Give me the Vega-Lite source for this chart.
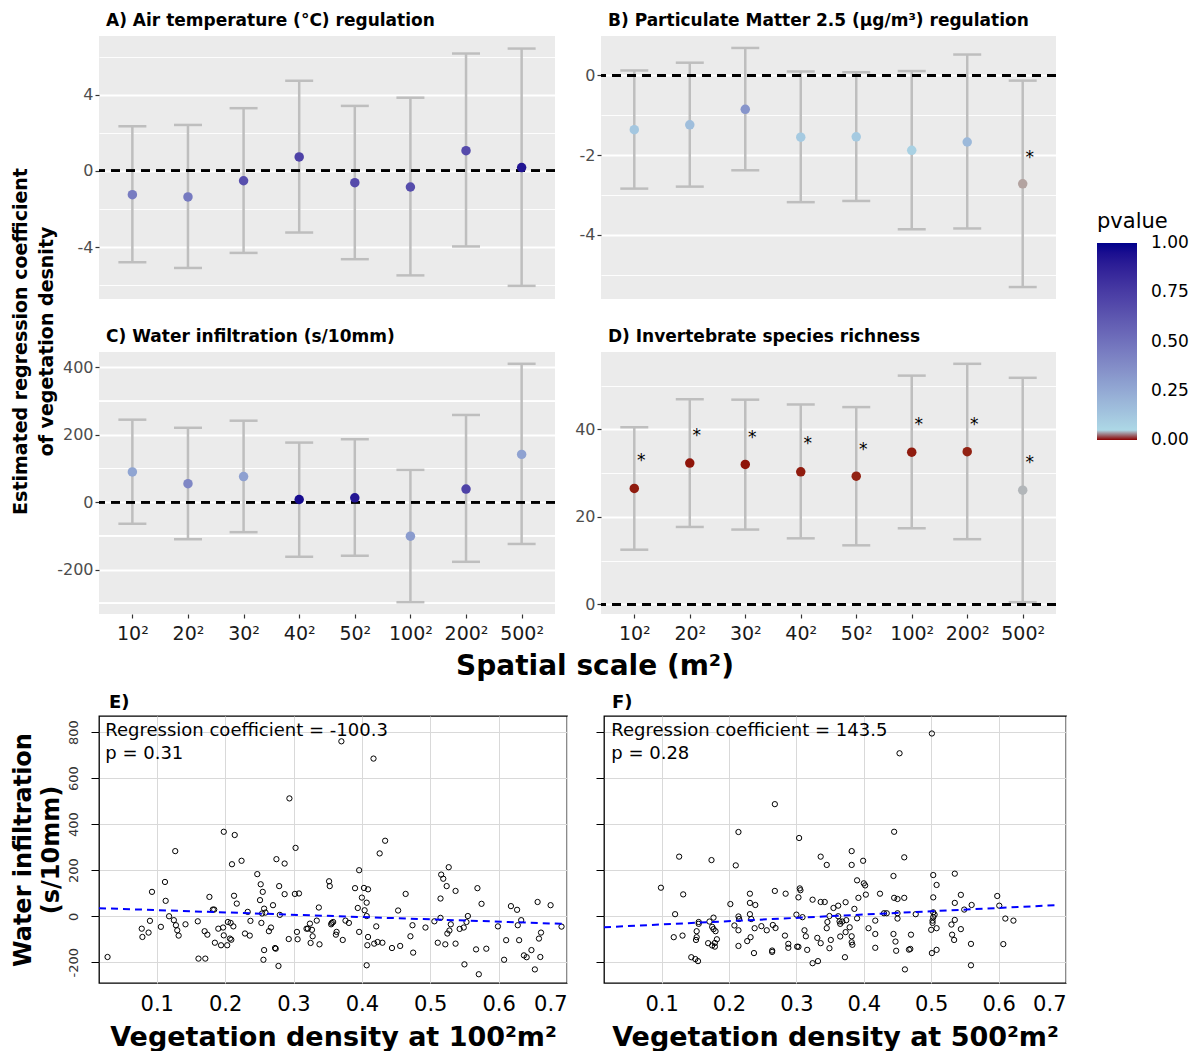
{
"$schema": "https://vega.github.io/schema/vega-lite/v6.json",
"background": "white",
"padding": {"left": 10, "top": 12, "right": 4, "bottom": 0},
"config": {
  "font": "DejaVu Sans",
  "view": {"fill": "#EBEBEB", "stroke": null},
  "axis": {"labelFont": "DejaVu Sans", "titleFont": "DejaVu Sans"},
  "title": {"font": "DejaVu Sans", "color": "black"}
},
"datasets": {
  "coef": [
    {"panel":"A","scale":"10²","est":-1.25,"lo":-4.80,"hi":2.34,"p":0.45},
    {"panel":"A","scale":"20²","est":-1.37,"lo":-5.10,"hi":2.41,"p":0.46},
    {"panel":"A","scale":"30²","est":-0.52,"lo":-4.31,"hi":3.29,"p":0.66},
    {"panel":"A","scale":"40²","est":0.73,"lo":-3.24,"hi":4.73,"p":0.72},
    {"panel":"A","scale":"50²","est":-0.62,"lo":-4.64,"hi":3.41,"p":0.68},
    {"panel":"A","scale":"100²","est":-0.85,"lo":-5.49,"hi":3.84,"p":0.67},
    {"panel":"A","scale":"200²","est":1.06,"lo":-3.97,"hi":6.16,"p":0.68},
    {"panel":"A","scale":"500²","est":0.17,"lo":-6.04,"hi":6.42,"p":0.93},
    {"panel":"B","scale":"10²","est":-1.36,"lo":-2.84,"hi":0.125,"p":0.12},
    {"panel":"B","scale":"20²","est":-1.24,"lo":-2.79,"hi":0.32,"p":0.16},
    {"panel":"B","scale":"30²","est":-0.85,"lo":-2.38,"hi":0.69,"p":0.34},
    {"panel":"B","scale":"40²","est":-1.55,"lo":-3.18,"hi":0.10,"p":0.11},
    {"panel":"B","scale":"50²","est":-1.54,"lo":-3.15,"hi":0.08,"p":0.11},
    {"panel":"B","scale":"100²","est":-1.88,"lo":-3.86,"hi":0.11,"p":0.08},
    {"panel":"B","scale":"200²","est":-1.67,"lo":-3.84,"hi":0.525,"p":0.18},
    {"panel":"B","scale":"500²","est":-2.72,"lo":-5.31,"hi":-0.13,"p":0.036,"star":-1.97},
    {"panel":"C","scale":"10²","est":90,"lo":-64,"hi":245,"p":0.27},
    {"panel":"C","scale":"20²","est":55,"lo":-110,"hi":221,"p":0.40},
    {"panel":"C","scale":"30²","est":76,"lo":-89,"hi":242,"p":0.29},
    {"panel":"C","scale":"40²","est":8,"lo":-162,"hi":177,"p":0.96},
    {"panel":"C","scale":"50²","est":13,"lo":-159,"hi":187,"p":0.92},
    {"panel":"C","scale":"100²","est":-101,"lo":-297,"hi":96,"p":0.31},
    {"panel":"C","scale":"200²","est":39,"lo":-177,"hi":259,"p":0.72},
    {"panel":"C","scale":"500²","est":142,"lo":-124,"hi":411,"p":0.28},
    {"panel":"D","scale":"10²","est":26.5,"lo":12.5,"hi":40.5,"p":0.003,"star":33.6},
    {"panel":"D","scale":"20²","est":32.3,"lo":17.7,"hi":46.9,"p":0.002,"star":39.4},
    {"panel":"D","scale":"30²","est":32.0,"lo":17.1,"hi":46.8,"p":0.002,"star":39.0},
    {"panel":"D","scale":"40²","est":30.3,"lo":15.1,"hi":45.7,"p":0.003,"star":37.5},
    {"panel":"D","scale":"50²","est":29.3,"lo":13.5,"hi":45.1,"p":0.004,"star":36.3},
    {"panel":"D","scale":"100²","est":34.8,"lo":17.4,"hi":52.3,"p":0.003,"star":41.9},
    {"panel":"D","scale":"200²","est":34.9,"lo":14.9,"hi":55.0,"p":0.004,"star":42.0},
    {"panel":"D","scale":"500²","est":26.1,"lo":0.5,"hi":51.8,"p":0.041,"star":33.2}
  ],
  "e": [
    {"x":0.028,"y":-177},{"x":0.078,"y":-54},{"x":0.079,"y":-90},{"x":0.088,"y":-71},{"x":0.090,"y":-20},{"x":0.093,"y":106},{"x":0.106,"y":-46},{"x":0.112,"y":149},{"x":0.113,"y":67},{"x":0.118,"y":0},{"x":0.125,"y":-17},{"x":0.127,"y":283},{"x":0.128,"y":-39},{"x":0.130,"y":-61},{"x":0.132,"y":-84},{"x":0.142,"y":-35},{"x":0.160,"y":-22},{"x":0.161,"y":-184},{"x":0.170,"y":-65},{"x":0.171,"y":-184},{"x":0.174,"y":-80},{"x":0.177,"y":84},{"x":0.182,"y":29},{"x":0.184,"y":29},{"x":0.185,"y":-115},{"x":0.190,"y":-54},{"x":0.194,"y":-126},{"x":0.197,"y":-49},{"x":0.198,"y":367},{"x":0.198,"y":-83},{"x":0.203,"y":-126},{"x":0.204,"y":-25},{"x":0.207,"y":-97},{"x":0.208,"y":-29},{"x":0.209,"y":-102},{"x":0.210,"y":226},{"x":0.212,"y":-44},{"x":0.213,"y":89},{"x":0.214,"y":353},{"x":0.217,"y":55},{"x":0.224,"y":241},{"x":0.229,"y":-75},{"x":0.233,"y":19},{"x":0.236,"y":-84},{"x":0.237,"y":-20},{"x":0.247,"y":183},{"x":0.251,"y":70},{"x":0.252,"y":139},{"x":0.253,"y":-29},{"x":0.254,"y":12},{"x":0.255,"y":106},{"x":0.256,"y":-189},{"x":0.257,"y":-147},{"x":0.257,"y":33},{"x":0.259,"y":16},{"x":0.264,"y":-65},{"x":0.267,"y":-49},{"x":0.270,"y":48},{"x":0.273,"y":-138},{"x":0.274,"y":-141},{"x":0.275,"y":248},{"x":0.278,"y":-216},{"x":0.279,"y":131},{"x":0.280,"y":6},{"x":0.287,"y":96},{"x":0.287,"y":229},{"x":0.293,"y":-99},{"x":0.294,"y":512},{"x":0.302,"y":97},{"x":0.303,"y":297},{"x":0.305,"y":-68},{"x":0.306,"y":-100},{"x":0.308,"y":99},{"x":0.319,"y":-54},{"x":0.321,"y":-54},{"x":0.324,"y":-32},{"x":0.325,"y":-116},{"x":0.327,"y":-59},{"x":0.328,"y":-87},{"x":0.334,"y":-19},{"x":0.337,"y":38},{"x":0.338,"y":-122},{"x":0.352,"y":152},{"x":0.353,"y":131},{"x":0.355,"y":-35},{"x":0.356,"y":-29},{"x":0.358,"y":-25},{"x":0.362,"y":-80},{"x":0.363,"y":-68},{"x":0.370,"y":760},{"x":0.372,"y":-103},{"x":0.376,"y":-19},{"x":0.381,"y":-29},{"x":0.390,"y":122},{"x":0.394,"y":36},{"x":0.396,"y":-68},{"x":0.396,"y":200},{"x":0.400,"y":81},{"x":0.403,"y":123},{"x":0.404,"y":26},{"x":0.407,"y":59},{"x":0.407,"y":-213},{"x":0.407,"y":1},{"x":0.408,"y":-126},{"x":0.409,"y":117},{"x":0.409,"y":-90},{"x":0.417,"y":685},{"x":0.418,"y":-119},{"x":0.421,"y":-44},{"x":0.423,"y":-112},{"x":0.426,"y":273},{"x":0.430,"y":-115},{"x":0.434,"y":328},{"x":0.444,"y":-138},{"x":0.453,"y":25},{"x":0.456,"y":-129},{"x":0.464,"y":97},{"x":0.471,"y":-87},{"x":0.474,"y":-39},{"x":0.475,"y":-158},{"x":0.493,"y":-49},{"x":0.506,"y":-22},{"x":0.511,"y":-115},{"x":0.515,"y":77},{"x":0.515,"y":-7},{"x":0.516,"y":181},{"x":0.519,"y":163},{"x":0.522,"y":-122},{"x":0.524,"y":131},{"x":0.525,"y":-75},{"x":0.527,"y":213},{"x":0.528,"y":-62},{"x":0.530,"y":-35},{"x":0.537,"y":110},{"x":0.537,"y":-119},{"x":0.543,"y":-55},{"x":0.549,"y":-49},{"x":0.550,"y":-209},{"x":0.553,"y":-25},{"x":0.555,"y":1},{"x":0.567,"y":-144},{"x":0.569,"y":122},{"x":0.571,"y":-252},{"x":0.575,"y":54},{"x":0.582,"y":-141},{"x":0.599,"y":-44},{"x":0.608,"y":-189},{"x":0.611,"y":-104},{"x":0.618,"y":44},{"x":0.627,"y":28},{"x":0.628,"y":-39},{"x":0.630,"y":-104},{"x":0.633,"y":-17},{"x":0.637,"y":-170},{"x":0.641,"y":-178},{"x":0.648,"y":-147},{"x":0.653,"y":-231},{"x":0.657,"y":62},{"x":0.659,"y":-97},{"x":0.661,"y":-177},{"x":0.662,"y":-71},{"x":0.676,"y":48},{"x":0.692,"y":-45}
  ],
  "f": [
    {"x":0.501,"y":794},{"x":0.453,"y":708},{"x":0.268,"y":487},{"x":0.445,"y":367},{"x":0.214,"y":366},{"x":0.304,"y":340},{"x":0.126,"y":259},{"x":0.174,"y":244},{"x":0.210,"y":221},{"x":0.336,"y":259},{"x":0.345,"y":223},{"x":0.382,"y":283},{"x":0.382,"y":223},{"x":0.399,"y":241},{"x":0.460,"y":256},{"x":0.444,"y":175},{"x":0.503,"y":179},{"x":0.535,"y":185},{"x":0.508,"y":136},{"x":0.390,"y":156},{"x":0.400,"y":143},{"x":0.402,"y":134},{"x":0.099,"y":124},{"x":0.305,"y":121},{"x":0.306,"y":113},{"x":0.268,"y":110},{"x":0.284,"y":98},{"x":0.231,"y":98},{"x":0.132,"y":95},{"x":0.424,"y":98},{"x":0.403,"y":94},{"x":0.303,"y":82},{"x":0.503,"y":82},{"x":0.544,"y":93},{"x":0.598,"y":88},{"x":0.324,"y":72},{"x":0.336,"y":62},{"x":0.342,"y":62},{"x":0.392,"y":80},{"x":0.373,"y":61},{"x":0.362,"y":46},{"x":0.355,"y":36},{"x":0.386,"y":32},{"x":0.445,"y":80},{"x":0.450,"y":75},{"x":0.460,"y":80},{"x":0.535,"y":58},{"x":0.560,"y":49},{"x":0.549,"y":29},{"x":0.601,"y":46},{"x":0.202,"y":53},{"x":0.231,"y":58},{"x":0.239,"y":49},{"x":0.120,"y":9},{"x":0.231,"y":9},{"x":0.300,"y":7},{"x":0.309,"y":-4},{"x":0.349,"y":1},{"x":0.362,"y":0},{"x":0.430,"y":13},{"x":0.434,"y":13},{"x":0.450,"y":13},{"x":0.477,"y":9},{"x":0.503,"y":17},{"x":0.505,"y":7},{"x":0.450,"y":-10},{"x":0.503,"y":-4},{"x":0.214,"y":-1},{"x":0.215,"y":-12},{"x":0.233,"y":-12},{"x":0.177,"y":-6},{"x":0.171,"y":-23},{"x":0.155,"y":-25},{"x":0.155,"y":-33},{"x":0.346,"y":-25},{"x":0.364,"y":-22},{"x":0.368,"y":-23},{"x":0.374,"y":-17},{"x":0.390,"y":-9},{"x":0.417,"y":-19},{"x":0.502,"y":-19},{"x":0.502,"y":-29},{"x":0.610,"y":-10},{"x":0.622,"y":-19},{"x":0.535,"y":-16},{"x":0.530,"y":-36},{"x":0.208,"y":-40},{"x":0.175,"y":-46},{"x":0.177,"y":-56},{"x":0.214,"y":-61},{"x":0.238,"y":-52},{"x":0.248,"y":-43},{"x":0.256,"y":-61},{"x":0.269,"y":-51},{"x":0.312,"y":-61},{"x":0.265,"y":-38},{"x":0.345,"y":-52},{"x":0.365,"y":-33},{"x":0.379,"y":-48},{"x":0.373,"y":-69},{"x":0.407,"y":-52},{"x":0.500,"y":-59},{"x":0.508,"y":-52},{"x":0.544,"y":-56},{"x":0.152,"y":-65},{"x":0.131,"y":-84},{"x":0.118,"y":-91},{"x":0.152,"y":-91},{"x":0.151,"y":-103},{"x":0.180,"y":-65},{"x":0.182,"y":-100},{"x":0.179,"y":-116},{"x":0.169,"y":-117},{"x":0.175,"y":-127},{"x":0.179,"y":-132},{"x":0.214,"y":-129},{"x":0.227,"y":-108},{"x":0.232,"y":-91},{"x":0.237,"y":-160},{"x":0.264,"y":-149},{"x":0.264,"y":-155},{"x":0.283,"y":-84},{"x":0.288,"y":-120},{"x":0.288,"y":-137},{"x":0.301,"y":-132},{"x":0.303,"y":-133},{"x":0.314,"y":-87},{"x":0.316,"y":-146},{"x":0.331,"y":-94},{"x":0.336,"y":-117},{"x":0.349,"y":-139},{"x":0.351,"y":-103},{"x":0.365,"y":-88},{"x":0.372,"y":-178},{"x":0.382,"y":-87},{"x":0.382,"y":-113},{"x":0.383,"y":-124},{"x":0.417,"y":-77},{"x":0.417,"y":-137},{"x":0.444,"y":-77},{"x":0.447,"y":-110},{"x":0.448,"y":-150},{"x":0.467,"y":-145},{"x":0.470,"y":-80},{"x":0.469,"y":-142},{"x":0.461,"y":-231},{"x":0.501,"y":-160},{"x":0.508,"y":-146},{"x":0.531,"y":-80},{"x":0.534,"y":-103},{"x":0.559,"y":-120},{"x":0.559,"y":-213},{"x":0.607,"y":-121},{"x":0.144,"y":-178},{"x":0.150,"y":-186},{"x":0.154,"y":-195},{"x":0.324,"y":-204},{"x":0.332,"y":-195}
  ],
  "eline": [{"x":0.0155,"y":35.1},{"x":0.695,"y":-33}],
  "fline": [{"x":0.0145,"y":-47.9},{"x":0.69,"y":49}],
  "eanno": [{"x":0.0247,"y":804,"label":"Regression coefficient = -100.3"},{"x":0.0247,"y":707,"label":"p = 0.31"}],
  "fanno": [{"x":0.0253,"y":804,"label":"Regression coefficient = 143.5"},{"x":0.0253,"y":707,"label":"p = 0.28"}]
},
"spacing": 12,
"vconcat": [
  {
    "title": {"text": "Spatial scale (m²)", "orient": "bottom", "anchor": "middle", "fontSize": 28, "fontWeight": "bold", "offset": 10, "dx": 61},
    "spacing": 18,
    "hconcat": [
      {
        "bounds": "flush",
        "spacing": 53,
        "vconcat": [
          {
            "width": 456, "height": 263,
            "data": {"name": "coef"},
            "transform": [{"filter": "datum.panel === 'A'"}],
            "title": {"text": "A) Air temperature (°C) regulation", "anchor": "start", "frame": "group", "fontSize": 17, "fontWeight": "bold", "offset": 6, "dx": 7},
            "layer": [
              {"mark": {"type": "rule", "color": "#BEBEBE", "strokeWidth": 2.5},
               "encoding": {
                 "x": {"field": "scale", "type": "ordinal", "scale": {"type": "point", "domain": ["10²","20²","30²","40²","50²","100²","200²","500²"], "padding": 0.6}, "axis": {"title": null, "labels": false, "ticks": false, "domain": false, "gridColor": "#FFFFFF", "gridWidth": 1.8}},
                 "y": {"field": "lo", "type": "quantitative", "scale": {"domain": [-6.73, 7.08], "nice": false, "zero": false},
                       "axis": {"title": ["Estimated regression coefficient", "of vegetation desnity"], "titleFontSize": 19, "titleFontWeight": "bold", "titleColor": "black", "titleLineHeight": 26, "titleX": -69, "titleY": 305, "titleAngle": 270, "titleAlign": "center", "titleBaseline": "bottom",
                                "values": [-6,-4,-2,0,2,4,6], "labelExpr": "datum.value % 4 === 0 ? '' + datum.value : ''", "domain": false, "gridColor": "#FFFFFF", "gridWidth": {"condition": {"test": "datum.value % 4 === 0", "value": 1.8}, "value": 0.9}, "tickOpacity": {"condition": {"test": "datum.value % 4 === 0", "value": 1}, "value": 0}, "tickColor": "#333333", "tickSize": 4, "tickWidth": 1.2, "labelColor": "#4D4D4D", "labelFontSize": 16, "labelPadding": 2}},
                 "y2": {"field": "hi"}}},
              {"mark": {"type": "tick", "orient": "horizontal", "color": "#BEBEBE", "thickness": 2.5, "size": 28, "opacity": 1},
               "encoding": {"x": {"field": "scale", "type": "ordinal"}, "y": {"field": "lo", "type": "quantitative"}}},
              {"mark": {"type": "tick", "orient": "horizontal", "color": "#BEBEBE", "thickness": 2.5, "size": 28, "opacity": 1},
               "encoding": {"x": {"field": "scale", "type": "ordinal"}, "y": {"field": "hi", "type": "quantitative"}}},
              {"mark": {"type": "rule", "color": "black", "strokeWidth": 2, "strokeDash": [9, 6]},
               "encoding": {"y": {"datum": 0}}},
              {"mark": {"type": "circle", "size": 90, "opacity": 1},
               "encoding": {"x": {"field": "scale", "type": "ordinal"}, "y": {"field": "est", "type": "quantitative"},
                 "color": {"field": "p", "type": "quantitative", "scale": {"domain": [0, 0.05, 1], "range": ["#8B0000", "#ADD8E6", "#00008B"], "interpolate": "lab"},
                   "legend": {"title": "pvalue", "orient": "none", "legendX": 998, "legendY": 175, "gradientLength": 197, "gradientThickness": 40, "titleFontSize": 21, "titleFontWeight": "normal", "titleColor": "black", "labelFontSize": 17, "labelColor": "black", "values": [0.0005, 0.25, 0.5, 0.75, 0.9995], "labelExpr": "datum.value < 0.01 ? '0.00' : datum.value > 0.99 ? '1.00' : format(datum.value, '.2f')", "labelOffset": 14, "titlePadding": 11, "gradientStrokeWidth": 0}}}}
            ]
          },
          {
            "width": 456, "height": 262,
            "data": {"name": "coef"},
            "transform": [{"filter": "datum.panel === 'C'"}],
            "title": {"text": "C) Water infiltration (s/10mm)", "anchor": "start", "frame": "group", "fontSize": 17, "fontWeight": "bold", "offset": 6, "dx": 7},
            "layer": [
              {"mark": {"type": "rule", "color": "#FFFFFF", "strokeWidth": 0.9},
               "encoding": {"y": {"datum": -300}}},
              {"mark": {"type": "rule", "color": "#FFFFFF", "strokeWidth": 0.9},
               "encoding": {"y": {"datum": -100}}},
              {"mark": {"type": "rule", "color": "#FFFFFF", "strokeWidth": 0.9},
               "encoding": {"y": {"datum": 100}}},
              {"mark": {"type": "rule", "color": "#FFFFFF", "strokeWidth": 0.9},
               "encoding": {"y": {"datum": 300}}},
              {"mark": {"type": "rule", "color": "#BEBEBE", "strokeWidth": 2.5},
               "encoding": {
                 "x": {"field": "scale", "type": "ordinal", "scale": {"type": "point", "domain": ["10²","20²","30²","40²","50²","100²","200²","500²"], "padding": 0.6}, "axis": {"title": null, "labels": true, "ticks": true, "tickColor": "#333333", "tickSize": 4, "tickWidth": 1.2, "domain": false, "gridColor": "#FFFFFF", "gridWidth": 1.8, "labelFontSize": 19, "labelColor": "#1A1A1A", "labelPadding": 6, "labelAngle": 0}},
                 "y": {"field": "lo", "type": "quantitative", "scale": {"domain": [-332, 446], "nice": false, "zero": false},
                       "axis": {"title": null, "values": [-200, 0, 200, 400], "labelExpr": "'' + datum.value", "domain": false, "grid": true, "gridColor": "#FFFFFF", "gridWidth": 1.8, "ticks": true, "tickColor": "#333333", "tickSize": 4, "tickWidth": 1.2, "labels": true, "labelColor": "#4D4D4D", "labelFontSize": 16, "labelPadding": 2}},
                 "y2": {"field": "hi"}}},
              {"mark": {"type": "tick", "orient": "horizontal", "color": "#BEBEBE", "thickness": 2.5, "size": 28, "opacity": 1},
               "encoding": {"x": {"field": "scale", "type": "ordinal"}, "y": {"field": "lo", "type": "quantitative"}}},
              {"mark": {"type": "tick", "orient": "horizontal", "color": "#BEBEBE", "thickness": 2.5, "size": 28, "opacity": 1},
               "encoding": {"x": {"field": "scale", "type": "ordinal"}, "y": {"field": "hi", "type": "quantitative"}}},
              {"mark": {"type": "rule", "color": "black", "strokeWidth": 2, "strokeDash": [9, 6]},
               "encoding": {"y": {"datum": 0}}},
              {"mark": {"type": "circle", "size": 90, "opacity": 1},
               "encoding": {"x": {"field": "scale", "type": "ordinal"}, "y": {"field": "est", "type": "quantitative"},
                 "color": {"field": "p", "type": "quantitative"}}}
            ]
          }
        ]
      },
      {
        "bounds": "flush",
        "spacing": 53,
        "vconcat": [
          {
            "width": 455, "height": 263,
            "data": {"name": "coef"},
            "transform": [{"filter": "datum.panel === 'B'"}],
            "title": {"text": "B) Particulate Matter 2.5 (μg/m³) regulation", "anchor": "start", "frame": "group", "fontSize": 17, "fontWeight": "bold", "offset": 6, "dx": 7},
            "layer": [
              {"mark": {"type": "rule", "color": "#BEBEBE", "strokeWidth": 2.5},
               "encoding": {
                 "x": {"field": "scale", "type": "ordinal", "scale": {"type": "point", "domain": ["10²","20²","30²","40²","50²","100²","200²","500²"], "padding": 0.6}, "axis": {"title": null, "labels": false, "ticks": false, "domain": false, "gridColor": "#FFFFFF", "gridWidth": 1.8}},
                 "y": {"field": "lo", "type": "quantitative", "scale": {"domain": [-5.61, 0.99], "nice": false, "zero": false},
                       "axis": {"title": null, "values": [-5,-4,-3,-2,-1,0], "labelExpr": "datum.value % 2 === 0 ? '' + datum.value : ''", "domain": false, "gridColor": "#FFFFFF", "gridWidth": {"condition": {"test": "datum.value % 2 === 0", "value": 1.8}, "value": 0.9}, "tickOpacity": {"condition": {"test": "datum.value % 2 === 0", "value": 1}, "value": 0}, "tickColor": "#333333", "tickSize": 4, "tickWidth": 1.2, "labelColor": "#4D4D4D", "labelFontSize": 16, "labelPadding": 2}},
                 "y2": {"field": "hi"}}},
              {"mark": {"type": "tick", "orient": "horizontal", "color": "#BEBEBE", "thickness": 2.5, "size": 28, "opacity": 1},
               "encoding": {"x": {"field": "scale", "type": "ordinal"}, "y": {"field": "lo", "type": "quantitative"}}},
              {"mark": {"type": "tick", "orient": "horizontal", "color": "#BEBEBE", "thickness": 2.5, "size": 28, "opacity": 1},
               "encoding": {"x": {"field": "scale", "type": "ordinal"}, "y": {"field": "hi", "type": "quantitative"}}},
              {"mark": {"type": "rule", "color": "black", "strokeWidth": 2, "strokeDash": [9, 6]},
               "encoding": {"y": {"datum": 0}}},
              {"mark": {"type": "circle", "size": 90, "opacity": 1},
               "encoding": {"x": {"field": "scale", "type": "ordinal"}, "y": {"field": "est", "type": "quantitative"},
                 "color": {"field": "p", "type": "quantitative"}}},
              {"transform": [{"filter": "datum.star != null"}],
               "mark": {"type": "text", "text": "*", "fontSize": 17, "dx": 7, "dy": 4, "color": "black"},
               "encoding": {"x": {"field": "scale", "type": "ordinal"}, "y": {"field": "star", "type": "quantitative"}}}
            ]
          },
          {
            "width": 455, "height": 262,
            "data": {"name": "coef"},
            "transform": [{"filter": "datum.panel === 'D'"}],
            "title": {"text": "D) Invertebrate species richness", "anchor": "start", "frame": "group", "fontSize": 17, "fontWeight": "bold", "offset": 6, "dx": 7},
            "layer": [
              {"mark": {"type": "rule", "color": "#BEBEBE", "strokeWidth": 2.5},
               "encoding": {
                 "x": {"field": "scale", "type": "ordinal", "scale": {"type": "point", "domain": ["10²","20²","30²","40²","50²","100²","200²","500²"], "padding": 0.6}, "axis": {"title": null, "labels": true, "ticks": true, "tickColor": "#333333", "tickSize": 4, "tickWidth": 1.2, "domain": false, "gridColor": "#FFFFFF", "gridWidth": 1.8, "labelFontSize": 19, "labelColor": "#1A1A1A", "labelPadding": 6, "labelAngle": 0}},
                 "y": {"field": "lo", "type": "quantitative", "scale": {"domain": [-2.2, 57.7], "nice": false, "zero": false},
                       "axis": {"title": null, "values": [0,10,20,30,40,50], "labelExpr": "datum.value % 20 === 0 ? '' + datum.value : ''", "domain": false, "gridColor": "#FFFFFF", "gridWidth": {"condition": {"test": "datum.value % 20 === 0", "value": 1.8}, "value": 0.9}, "tickOpacity": {"condition": {"test": "datum.value % 20 === 0", "value": 1}, "value": 0}, "tickColor": "#333333", "tickSize": 4, "tickWidth": 1.2, "labelColor": "#4D4D4D", "labelFontSize": 16, "labelPadding": 2}},
                 "y2": {"field": "hi"}}},
              {"mark": {"type": "tick", "orient": "horizontal", "color": "#BEBEBE", "thickness": 2.5, "size": 28, "opacity": 1},
               "encoding": {"x": {"field": "scale", "type": "ordinal"}, "y": {"field": "lo", "type": "quantitative"}}},
              {"mark": {"type": "tick", "orient": "horizontal", "color": "#BEBEBE", "thickness": 2.5, "size": 28, "opacity": 1},
               "encoding": {"x": {"field": "scale", "type": "ordinal"}, "y": {"field": "hi", "type": "quantitative"}}},
              {"mark": {"type": "rule", "color": "black", "strokeWidth": 2, "strokeDash": [9, 6]},
               "encoding": {"y": {"datum": 0}}},
              {"mark": {"type": "circle", "size": 90, "opacity": 1},
               "encoding": {"x": {"field": "scale", "type": "ordinal"}, "y": {"field": "est", "type": "quantitative"},
                 "color": {"field": "p", "type": "quantitative"}}},
              {"transform": [{"filter": "datum.star != null"}],
               "mark": {"type": "text", "text": "*", "fontSize": 17, "dx": 7, "dy": 4, "color": "black"},
               "encoding": {"x": {"field": "scale", "type": "ordinal"}, "y": {"field": "star", "type": "quantitative"}}}
            ]
          }
        ]
      }
    ]
  },
  {
    "spacing": 25,
    "hconcat": [
      {
        "width": 468, "height": 267,
        "view": {"fill": "white", "stroke": "black", "strokeWidth": 1.3},
        "title": {"text": "E)", "anchor": "start", "frame": "group", "fontSize": 18, "fontWeight": "bold", "offset": 4, "dx": 10},
        "layer": [
          {"data": {"name": "e"},
           "mark": {"type": "point", "shape": "circle", "filled": false, "stroke": "black", "strokeWidth": 1, "size": 28, "opacity": 1},
           "encoding": {
             "x": {"field": "x", "type": "quantitative", "scale": {"domain": [0.0155, 0.7], "nice": false, "zero": false},
                   "axis": {"title": "Vegetation density at 100²m²", "values": [0.1,0.2,0.3,0.4,0.5,0.6,0.7], "format": ".1f", "grid": true, "gridColor": "#D9D9D9", "gridWidth": 1, "ticks": false, "domain": false, "labelFontSize": 21, "labelColor": "black", "labelPadding": 10, "titleFontSize": 27, "titleFontWeight": "bold", "titleColor": "black", "titlePadding": 10}},
             "y": {"field": "y", "type": "quantitative", "scale": {"domain": [-290, 870], "nice": false, "zero": false},
                   "axis": {"title": ["Water infiltration", "(s/10mm)"], "values": [-200,0,200,400,600,800], "labelExpr": "'' + datum.value", "labelAngle": -90, "labelAlign": "center", "labelBaseline": "bottom", "labelFontSize": 13, "labelColor": "#333333", "labelPadding": 11, "ticks": true, "tickColor": "black", "tickSize": 8, "domain": false, "grid": true, "gridColor": "#D9D9D9", "gridWidth": 1, "titleFontSize": 24, "titleFontWeight": "bold", "titleColor": "black", "titleLineHeight": 28, "titlePadding": 4}}}},
          {"data": {"name": "eline"},
           "mark": {"type": "line", "color": "#0000FF", "strokeWidth": 2, "strokeDash": [7, 5]},
           "encoding": {"x": {"field": "x", "type": "quantitative"}, "y": {"field": "y", "type": "quantitative"}}},
          {"data": {"name": "eanno"},
           "mark": {"type": "text", "align": "left", "baseline": "middle", "fontSize": 18, "color": "black"},
           "encoding": {"x": {"field": "x", "type": "quantitative"}, "y": {"field": "y", "type": "quantitative"}, "text": {"field": "label"}}}
        ]
      },
      {
        "width": 462, "height": 267,
        "view": {"fill": "white", "stroke": "black", "strokeWidth": 1.3},
        "title": {"text": "F)", "anchor": "start", "frame": "group", "fontSize": 18, "fontWeight": "bold", "offset": 4, "dx": 8},
        "layer": [
          {"data": {"name": "f"},
           "mark": {"type": "point", "shape": "circle", "filled": false, "stroke": "black", "strokeWidth": 1, "size": 28, "opacity": 1},
           "encoding": {
             "x": {"field": "x", "type": "quantitative", "scale": {"domain": [0.0145, 0.7], "nice": false, "zero": false},
                   "axis": {"title": "Vegetation density at 500²m²", "values": [0.1,0.2,0.3,0.4,0.5,0.6,0.7], "format": ".1f", "grid": true, "gridColor": "#D9D9D9", "gridWidth": 1, "ticks": false, "domain": false, "labelFontSize": 21, "labelColor": "black", "labelPadding": 10, "titleFontSize": 27, "titleFontWeight": "bold", "titleColor": "black", "titlePadding": 10}},
             "y": {"field": "y", "type": "quantitative", "scale": {"domain": [-290, 870], "nice": false, "zero": false},
                   "axis": {"title": null, "values": [-200,0,200,400,600,800], "labels": false, "ticks": true, "tickColor": "black", "tickSize": 8, "domain": false, "grid": true, "gridColor": "#D9D9D9", "gridWidth": 1}}}},
          {"data": {"name": "fline"},
           "mark": {"type": "line", "color": "#0000FF", "strokeWidth": 2, "strokeDash": [7, 5]},
           "encoding": {"x": {"field": "x", "type": "quantitative"}, "y": {"field": "y", "type": "quantitative"}}},
          {"data": {"name": "fanno"},
           "mark": {"type": "text", "align": "left", "baseline": "middle", "fontSize": 18, "color": "black"},
           "encoding": {"x": {"field": "x", "type": "quantitative"}, "y": {"field": "y", "type": "quantitative"}, "text": {"field": "label"}}}
        ]
      }
    ]
  }
]
}
